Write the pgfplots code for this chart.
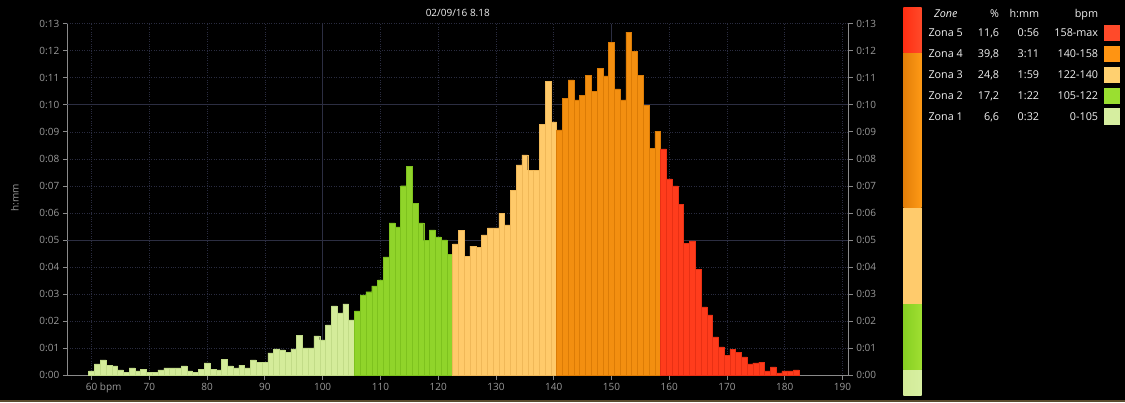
\documentclass[border=0pt]{standalone}
\usepackage{pgfplots}
\pgfplotsset{compat=1.18}
\usepackage{fontspec}
\setmainfont{Open Sans}
\definecolor{zoneA}{HTML}{D4EC9A}
\definecolor{zoneAe}{HTML}{C2DC88}
\definecolor{zoneB}{HTML}{90D42A}
\definecolor{zoneBe}{HTML}{7EC21E}
\definecolor{zoneC}{HTML}{FFCA6A}
\definecolor{zoneCe}{HTML}{F0B858}
\definecolor{zoneD}{HTML}{F38F10}
\definecolor{zoneDe}{HTML}{DC7C06}
\definecolor{zoneE}{HTML}{FF3C1C}
\definecolor{zoneEe}{HTML}{E83014}
\definecolor{axisgray}{HTML}{8A8A8A}
\definecolor{labelgray}{HTML}{9A9A9A}
\definecolor{gridcol}{HTML}{2A2C40}
\definecolor{gridsolid}{HTML}{2C2E42}
\definecolor{bordercol}{HTML}{5A4A2E}
\definecolor{txt}{HTML}{F0F0F0}
\definecolor{cbAl}{HTML}{D2EA98}
\definecolor{cbAr}{HTML}{D8F0A2}
\definecolor{cbBl}{HTML}{86CE22}
\definecolor{cbBr}{HTML}{A0E032}
\definecolor{cbC}{HTML}{FFCB6C}
\definecolor{cbDl}{HTML}{E27E08}
\definecolor{cbDr}{HTML}{FF9A16}
\definecolor{cbEl}{HTML}{FF2E12}
\definecolor{cbEr}{HTML}{FF4A2A}
\definecolor{swE}{HTML}{FF4A2A}
\definecolor{swD}{HTML}{FF9412}
\definecolor{swC}{HTML}{FFD070}
\definecolor{swB}{HTML}{9ADF30}
\definecolor{swA}{HTML}{D6EEA0}
\pgfplotsset{
  commonaxis/.style={
    at={(67.3pt,26.7pt)}, anchor=south west,
    scale only axis, width=781pt, height=351.6pt,
    xmin=55.8, xmax=191, ymin=0, ymax=13,
    ytick={0,...,13},
    yticklabels={0:00,0:01,0:02,0:03,0:04,0:05,0:06,0:07,0:08,0:09,0:10,0:11,0:12,0:13},
    tick align=outside, major tick length=4.5pt,
    axis line style={-, draw=axisgray, line width=0.8pt},
    tick style={draw=axisgray, line width=0.8pt},
    ticklabel style={font=\fontsize{10}{12}\selectfont, text=labelgray},
  }
}
\begin{document}
\begin{tikzpicture}
\fill[black] (0pt,0pt) rectangle (1125pt,402pt);
\fill[bordercol] (0pt,0pt) rectangle (1125pt,2.5pt);
\begin{axis}[commonaxis,
  axis x line*=bottom, axis y line*=left,
  xtick={60,70,...,190},
  xticklabels={60\rlap{ bpm},70,80,90,100,110,120,130,140,150,160,170,180,190},
  grid=major, major grid style={draw=gridcol, dotted, line width=0.7pt},
]
\draw[gridsolid, line width=0.9pt] (axis cs:100,0) -- (axis cs:100,13);
\draw[gridsolid, line width=0.9pt] (axis cs:150,0) -- (axis cs:150,13);
\draw[gridsolid, line width=0.9pt] (axis cs:55.8,5) -- (axis cs:191,5);
\draw[gridsolid, line width=0.9pt] (axis cs:55.8,10) -- (axis cs:191,10);
\addplot[ybar, bar width=1, bar shift=0pt, fill=zoneA, draw=zoneAe, line width=0.4pt] coordinates {
(60,0.16) (61,0.42) (62,0.57) (63,0.38) (64,0.35) (65,0.20) (66,0.12) (67,0.27) (68,0.16) (69,0.23)
(70,0.12) (71,0.12) (72,0.20) (73,0.27) (74,0.27) (75,0.27) (76,0.35) (77,0.16) (78,0.12) (79,0.23)
(80,0.46) (81,0.23) (82,0.20) (83,0.60) (84,0.35) (85,0.27) (86,0.38) (87,0.27) (88,0.57) (89,0.49)
(90,0.49) (91,0.83) (92,0.98) (93,0.94) (94,0.86) (95,0.98) (96,1.49) (97,1.01) (98,1.01) (99,1.46)
(100,1.31) (101,1.86) (102,2.57) (103,2.31) (104,2.64) (105,2.05)
};
\addplot[ybar, bar width=1, bar shift=0pt, fill=zoneB, draw=zoneBe, line width=0.4pt] coordinates {
(106,2.38) (107,2.97) (108,3.09) (109,3.31) (110,3.53) (111,4.38) (112,5.64) (113,5.49) (114,7.01)
(115,7.72) (116,6.35) (117,5.64) (118,4.98) (119,5.38) (120,5.12) (121,5.01) (122,4.46)
};
\addplot[ybar, bar width=1, bar shift=0pt, fill=zoneC, draw=zoneCe, line width=0.4pt] coordinates {
(123,4.86) (124,5.37) (125,4.41) (126,4.78) (127,4.74) (128,5.19) (129,5.45) (130,5.45) (131,6.00)
(132,5.56) (133,6.85) (134,7.78) (135,8.15) (136,7.59) (137,7.59) (138,9.29) (139,10.88) (140,9.37)
};
\addplot[ybar, bar width=1, bar shift=0pt, fill=zoneD, draw=zoneDe, line width=0.4pt] coordinates {
(141,9.07) (142,10.25) (143,10.92) (144,10.18) (145,10.36) (146,11.10) (147,10.51) (148,11.36) (149,11.07)
(150,12.32) (151,10.59) (152,10.18) (153,12.69) (154,11.99) (155,11.10) (156,9.99) (157,8.40) (158,9.03)
};
\addplot[ybar, bar width=1, bar shift=0pt, fill=zoneE, draw=zoneEe, line width=0.4pt] coordinates {
(159,8.37) (160,7.26) (161,7.00) (162,6.33) (163,4.89) (164,4.97) (165,3.93) (166,2.53) (167,2.23)
(168,1.42) (169,1.05) (170,0.75) (171,0.97) (172,0.86) (173,0.68) (174,0.42) (175,0.46) (176,0.49)
(177,0.16) (178,0.31) (179,0.09) (180,0.16) (181,0.16) (182,0.20)
};
\end{axis}
\begin{axis}[commonaxis,
  axis y line*=right, axis x line=none,
]
\end{axis}
% title and y label
\node[text=txt, font=\fontsize{10}{12}\selectfont] at (457.8pt,389pt) {02/09/16 8.18};
\node[text=labelgray, rotate=90, font=\fontsize{10}{12}\selectfont] at (15pt,204pt) {h:mm};
% zone colour bar
\shade[left color=cbAl, right color=cbAr] (903.3pt,7pt) rectangle (921.7pt,32.3pt);
\shade[left color=cbBl, right color=cbBr] (903.3pt,32.3pt) rectangle (921.7pt,98pt);
\fill[cbC] (903.3pt,98pt) rectangle (921.7pt,194.3pt);
\shade[left color=cbDl, right color=cbDr] (903.3pt,194.3pt) rectangle (921.7pt,349.3pt);
\shade[left color=cbEl, right color=cbEr] (903.3pt,349.3pt) rectangle (921.7pt,394pt);
% legend table
\begin{scope}[every node/.style={text=txt, font=\fontsize{10.8}{13}\selectfont, inner sep=0pt}]
\node[anchor=base] at (945.8pt,384.7pt) {\itshape Zone};
\node[anchor=base east] at (999.3pt,384.7pt) {\%};
\node[anchor=base east] at (1039.3pt,384.7pt) {h:mm};
\node[anchor=base east] at (1098.3pt,384.7pt) {bpm};
\node[anchor=base west] at (928.3pt,365.3pt) {Zona 5};
\node[anchor=base east] at (999.3pt,365.3pt) {11,6};
\node[anchor=base east] at (1039.3pt,365.3pt) {0:56};
\node[anchor=base east] at (1098.3pt,365.3pt) {158-max};
\node[anchor=base west] at (928.3pt,344.5pt) {Zona 4};
\node[anchor=base east] at (999.3pt,344.5pt) {39,8};
\node[anchor=base east] at (1039.3pt,344.5pt) {3:11};
\node[anchor=base east] at (1098.3pt,344.5pt) {140-158};
\node[anchor=base west] at (928.3pt,323.5pt) {Zona 3};
\node[anchor=base east] at (999.3pt,323.5pt) {24,8};
\node[anchor=base east] at (1039.3pt,323.5pt) {1:59};
\node[anchor=base east] at (1098.3pt,323.5pt) {122-140};
\node[anchor=base west] at (928.3pt,302.3pt) {Zona 2};
\node[anchor=base east] at (999.3pt,302.3pt) {17,2};
\node[anchor=base east] at (1039.3pt,302.3pt) {1:22};
\node[anchor=base east] at (1098.3pt,302.3pt) {105-122};
\node[anchor=base west] at (928.3pt,281.3pt) {Zona 1};
\node[anchor=base east] at (999.3pt,281.3pt) {6,6};
\node[anchor=base east] at (1039.3pt,281.3pt) {0:32};
\node[anchor=base east] at (1098.3pt,281.3pt) {0-105};
\end{scope}
\fill[swE] (1104pt,361.3pt) rectangle (1120pt,377pt);
\fill[swD] (1104pt,340.3pt) rectangle (1120pt,356.3pt);
\fill[swC] (1104pt,319.3pt) rectangle (1120pt,335.3pt);
\fill[swB] (1104pt,298.2pt) rectangle (1120pt,314.3pt);
\fill[swA] (1104pt,277.3pt) rectangle (1120pt,293.7pt);
\pgfresetboundingbox
\path (0pt,0pt) rectangle (1125pt,402pt);
\end{tikzpicture}
\end{document}
